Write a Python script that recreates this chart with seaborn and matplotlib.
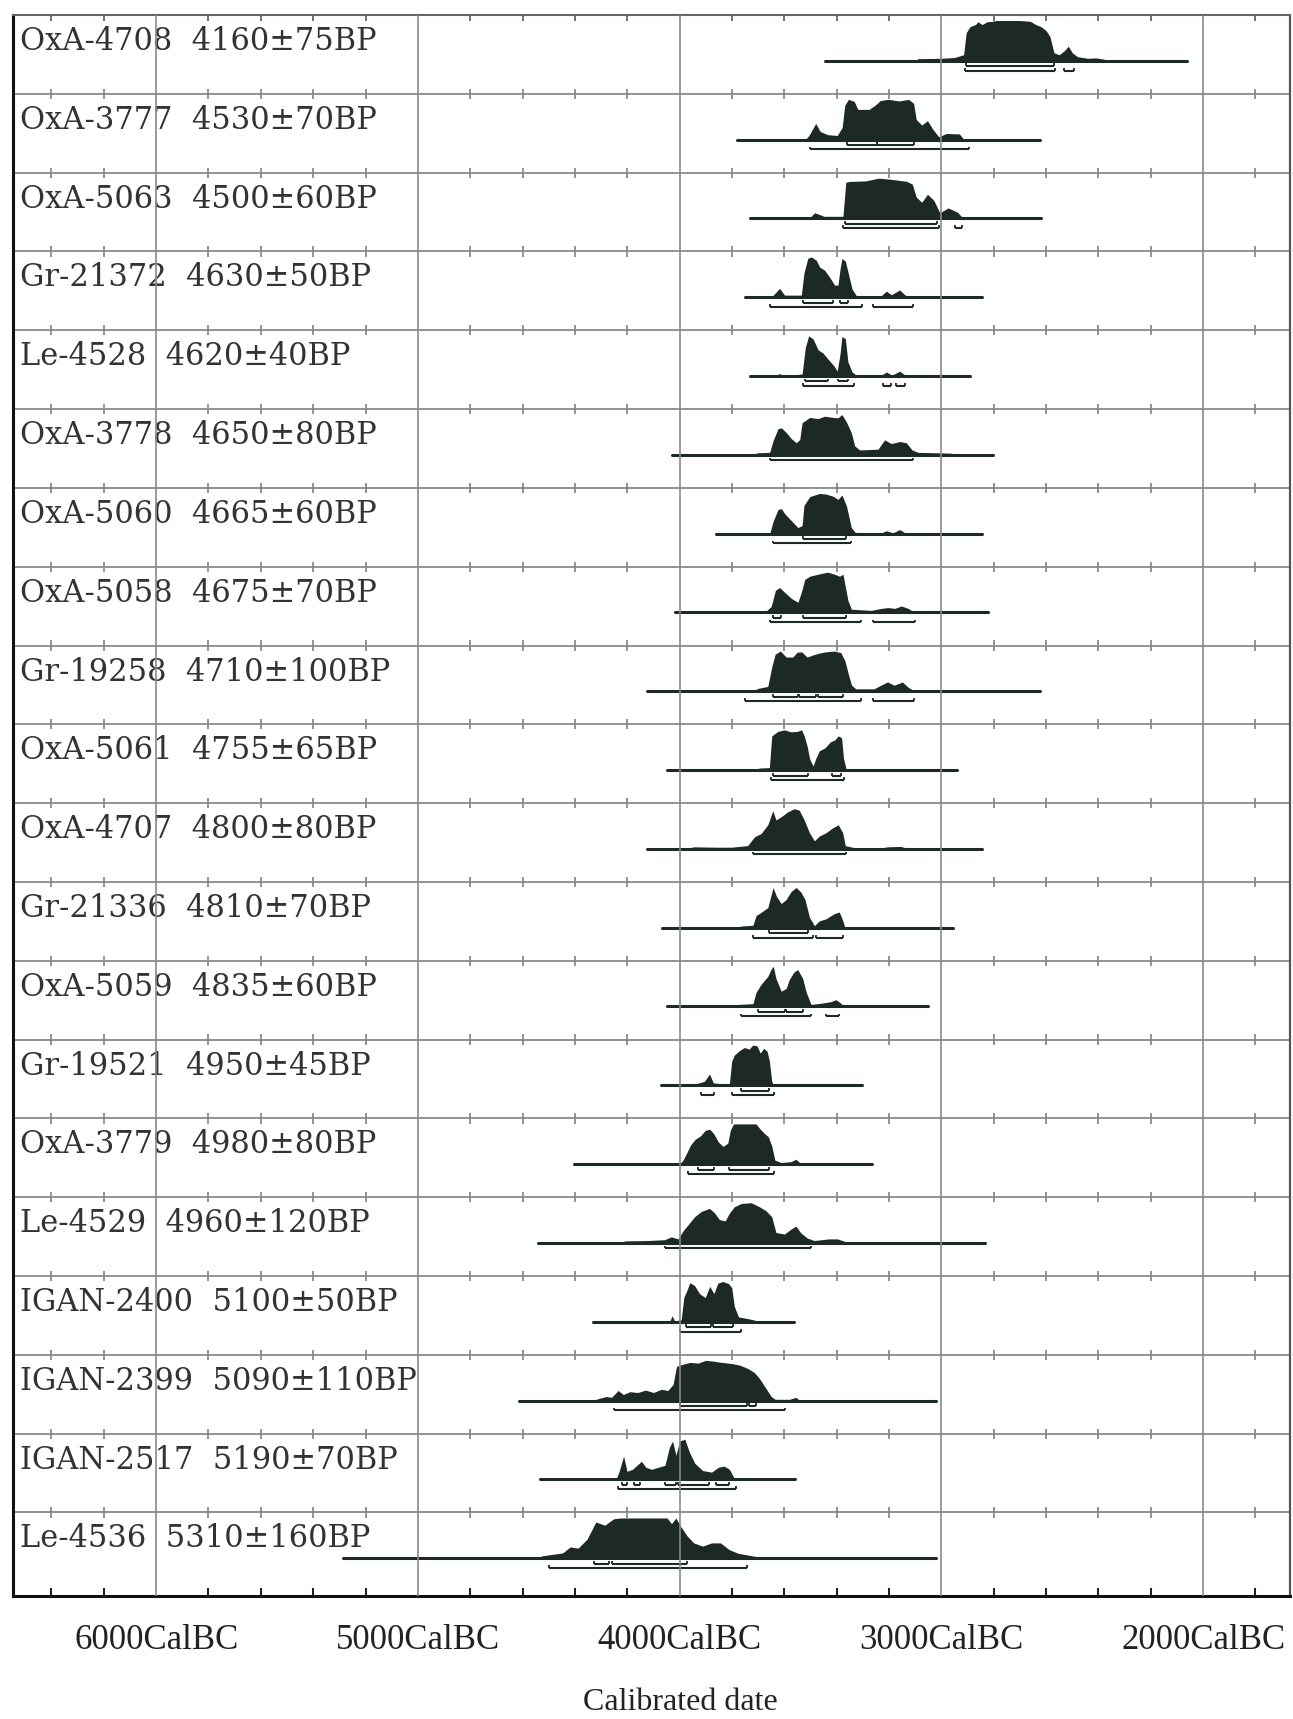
import matplotlib
matplotlib.use("Agg")
import matplotlib.pyplot as plt
import pandas as pd
import seaborn as sns

# sample labels, top to bottom
labels = ["OxA-4708  4160±75BP", "OxA-3777  4530±70BP", "OxA-5063  4500±60BP",
          "Gr-21372  4630±50BP", "Le-4528  4620±40BP", "OxA-3778  4650±80BP",
          "OxA-5060  4665±60BP", "OxA-5058  4675±70BP", "Gr-19258  4710±100BP",
          "OxA-5061  4755±65BP", "OxA-4707  4800±80BP", "Gr-21336  4810±70BP",
          "OxA-5059  4835±60BP", "Gr-19521  4950±45BP", "OxA-3779  4980±80BP",
          "Le-4529  4960±120BP", "IGAN-2400  5100±50BP", "IGAN-2399  5090±110BP",
          "IGAN-2517  5190±70BP", "Le-4536  5310±160BP"]

# extent of the plotted range line (cal BC)
line_start = [3445, 3780, 3730, 3750, 3732, 4030, 3862, 4016, 4126, 4048,
              4126, 4068, 4047, 4070, 4404, 4541, 4330, 4612, 4532, 5286]
line_end = [2060, 2622, 2620, 2843, 2890, 2804, 2843, 2820, 2625, 2940,
            2845, 2954, 3050, 3305, 3265, 2833, 3563, 3021, 3561, 3021]

# probability profiles: (year BC, relative height)
d_oxa4708 = [(3100, 0), (3090, .05), (3000, .06), (2950, .08), (2915, .15), (2905, .7), (2890, .85),
             (2870, .9), (2860, .97), (2845, .9), (2825, .97), (2805, .98), (2790, 1), (2700, 1),
             (2660, .98), (2640, .9), (2620, .85), (2600, .75), (2585, .6), (2570, .2), (2550, .15),
             (2530, .25), (2515, .36), (2500, .2), (2480, .1), (2440, .06), (2410, .07), (2380, .04),
             (2360, 0)]
d_oxa3777 = [(3520, 0), (3506, .1), (3480, .4), (3463, .2), (3434, .12), (3398, .1), (3379, .3),
             (3369, .85), (3355, 1), (3333, .95), (3319, .75), (3276, .75), (3254, .85), (3233, .97),
             (3204, 1), (3161, .96), (3125, 1), (3106, .9), (3096, .5), (3075, .36), (3053, .47),
             (3032, .25), (3010, .07), (2981, .15), (2931, .14), (2914, 0)]
d_oxa5063 = [(3506, 0), (3484, .14), (3448, .05), (3376, .05), (3365, .9), (3348, .92), (3290, .93),
             (3240, 1), (3190, .97), (3132, .92), (3111, .85), (3096, .53), (3075, .4), (3053, .6),
             (3029, .45), (3006, .14), (2974, .26), (2938, .15), (2917, 0)]
d_gr21372 = [(3650, 0), (3618, .22), (3599, .05), (3535, .05), (3525, .6), (3510, .97), (3497, 1),
             (3478, .92), (3465, .75), (3446, .67), (3427, .5), (3408, .3), (3395, .3), (3387, .7),
             (3380, .96), (3367, .9), (3354, .55), (3341, .2), (3325, .04), (3229, .04), (3210, .15),
             (3191, .06), (3159, .18), (3140, .06), (3121, 0)]
d_le4528 = [(3637, 0), (3618, .06), (3599, 0), (3532, .05), (3520, .7), (3507, 1), (3490, .92),
            (3471, .65), (3452, .57), (3433, .42), (3410, .25), (3398, .12), (3387, .55), (3380, .98),
            (3367, .93), (3357, .35), (3341, .1), (3325, .02), (3229, .02), (3210, .1), (3189, .02),
            (3159, .12), (3134, 0)]
d_oxa3778 = [(3726, 0), (3701, .05), (3656, .06), (3643, .35), (3624, .65), (3611, .67), (3592, .55),
             (3573, .4), (3554, .3), (3541, .38), (3532, .8), (3520, .85), (3503, .93), (3471, .9),
             (3446, .96), (3414, .93), (3395, .92), (3380, 1), (3363, .82), (3344, .55), (3331, .22),
             (3312, .12), (3242, .14), (3217, .37), (3191, .28), (3159, .33), (3134, .3), (3112, .12),
             (3089, .06), (2962, .04), (2936, 0)]
d_oxa5060 = [(3656, 0), (3643, .3), (3624, .6), (3611, .62), (3599, .5), (3573, .32), (3548, .15),
             (3532, .2), (3525, .7), (3503, .92), (3484, .96), (3465, 1), (3439, .98), (3414, .93),
             (3395, .85), (3380, .96), (3363, .7), (3344, .15), (3329, .03), (3229, .02), (3210, .07),
             (3185, .02), (3159, .1), (3134, 0)]
d_oxa5058 = [(3675, 0), (3650, .15), (3634, .55), (3618, .62), (3599, .5), (3573, .35), (3548, .25),
             (3535, .5), (3522, .82), (3503, .9), (3484, .93), (3459, .97), (3433, 1), (3408, .95),
             (3389, .9), (3376, .95), (3357, .3), (3344, .08), (3268, .05), (3229, .1), (3204, .12),
             (3178, .1), (3153, .16), (3127, .1), (3102, 0)]
d_gr19258 = [(3720, 0), (3701, .07), (3663, .12), (3648, .6), (3635, .92), (3615, 1), (3593, .85),
             (3568, .85), (3551, .97), (3534, .98), (3513, .85), (3492, .9), (3466, .95), (3441, .98),
             (3409, 1), (3384, .96), (3368, .75), (3356, .44), (3343, .15), (3327, .06), (3257, .06),
             (3231, .15), (3206, .23), (3180, .15), (3149, .23), (3127, .1), (3102, 0)]
d_oxa5061 = [(3714, 0), (3695, .05), (3657, .06), (3648, .85), (3625, .96), (3600, 1), (3574, .95),
             (3551, .96), (3534, 1), (3524, .85), (3513, .6), (3503, .27), (3490, .1), (3479, .3),
             (3466, .48), (3445, .55), (3424, .7), (3407, .75), (3394, .85), (3381, .8), (3374, .3),
             (3363, 0)]
d_oxa4707 = [(3962, 0), (3949, .05), (3854, .04), (3803, .04), (3740, .08), (3714, .3), (3689, .38),
             (3663, .6), (3644, .95), (3632, .72), (3612, .8), (3587, .92), (3562, 1), (3543, .96),
             (3524, .72), (3504, .4), (3485, .2), (3466, .32), (3441, .4), (3416, .52), (3394, .6),
             (3377, .4), (3367, .08), (3333, .03), (3231, .02), (3206, .05), (3155, .06), (3123, 0)]
d_gr21336 = [(3778, 0), (3765, .04), (3720, .06), (3708, .3), (3689, .38), (3663, .5), (3651, .8),
             (3643, 1), (3630, .78), (3612, .6), (3593, .7), (3574, .9), (3555, 1), (3536, .88),
             (3521, .7), (3504, .26), (3485, .05), (3466, .17), (3441, .22), (3409, .35), (3390, .39),
             (3378, .2), (3368, 0)]
d_oxa5059 = [(3790, 0), (3778, .05), (3720, .07), (3708, .35), (3689, .55), (3663, .75), (3651, .92),
             (3642, 1), (3632, .7), (3612, .38), (3593, .45), (3581, .67), (3564, .85), (3549, .92),
             (3530, .7), (3516, .35), (3498, .05), (3460, .08), (3422, .12), (3403, .17), (3384, .08),
             (3371, 0)]
d_gr19521 = [(3956, 0), (3937, .04), (3905, .1), (3886, .28), (3871, .06), (3810, .02), (3801, .6),
             (3791, .75), (3772, .86), (3753, .94), (3734, .9), (3721, 1), (3704, .98), (3692, .8),
             (3679, .92), (3666, .85), (3657, .6), (3648, .1), (3641, 0)]
d_oxa3779 = [(4000, 0), (3987, .1), (3975, .25), (3958, .48), (3940, .62), (3921, .7), (3902, .84),
             (3885, .87), (3869, .75), (3852, .55), (3834, .44), (3816, .52), (3806, .85), (3794, 1),
             (3708, 1), (3692, .87), (3674, .75), (3661, .68), (3648, .45), (3636, .1), (3613, .04),
             (3575, .06), (3556, .12), (3534, 0)]
d_le4529 = [(4228, 0), (4209, .05), (4121, .06), (4057, .08), (4032, .15), (4006, .1), (3987, .3),
            (3968, .45), (3943, .65), (3918, .78), (3886, .86), (3867, .75), (3848, .58), (3826, .55),
            (3810, .74), (3791, .9), (3765, .98), (3727, 1), (3695, .9), (3670, .8), (3648, .65),
            (3632, .26), (3600, .22), (3575, .34), (3556, .42), (3537, .25), (3512, .12), (3486, .06),
            (3429, .1), (3397, .1), (3365, .03), (3353, 0)]
d_igan2400 = [(4038, 0), (4029, .15), (4019, .02), (3994, .05), (3984, .6), (3971, .8), (3961, .97),
              (3943, .9), (3924, .7), (3902, .6), (3885, .88), (3869, .7), (3854, .96), (3835, 1),
              (3813, .95), (3801, .85), (3791, .38), (3775, .12), (3740, .08), (3714, .04), (3702, 0)]
d_igan2399 = [(4330, 0), (4310, .05), (4280, .1), (4260, .08), (4235, .25), (4215, .15), (4190, .22),
              (4160, .2), (4130, .26), (4100, .2), (4070, .28), (4045, .25), (4025, .4), (4012, .85),
              (3990, .9), (3960, .95), (3930, .93), (3900, 1), (3870, .98), (3840, .95), (3800, .92),
              (3770, .88), (3740, .8), (3715, .7), (3695, .55), (3670, .3), (3650, .1), (3635, .03),
              (3580, .03), (3556, .08), (3540, 0)]
d_igan2517 = [(4243, 0), (4231, .2), (4214, .58), (4201, .2), (4180, .25), (4163, .35), (4146, .45),
              (4129, .3), (4107, .25), (4082, .3), (4056, .35), (4039, .8), (4027, .95), (4014, .6),
              (4000, .95), (3980, 1), (3963, .68), (3942, .4), (3912, .22), (3878, .18), (3852, .3),
              (3830, .33), (3810, .25), (3789, 0)]
d_le4536 = [(4549, 0), (4524, .06), (4481, .1), (4447, .13), (4418, .28), (4388, .25), (4354, .47),
            (4320, .9), (4286, .82), (4252, .98), (4226, 1), (4048, 1), (4031, .86), (4014, 1),
            (3997, .8), (3971, .55), (3946, .38), (3912, .3), (3878, .38), (3844, .38), (3810, .21),
            (3776, .12), (3741, .08), (3707, .04), (3656, 0)]

profiles = [d_oxa4708, d_oxa3777, d_oxa5063, d_gr21372, d_le4528, d_oxa3778, d_oxa5060,
            d_oxa5058, d_gr19258, d_oxa5061, d_oxa4707, d_gr21336, d_oxa5059, d_gr19521,
            d_oxa3779, d_le4529, d_igan2400, d_igan2399, d_igan2517, d_le4536]

# 68.2% and 95.4% ranges
hpd68 = [[(2905, 2570)], [(3362, 3247), (3244, 3103)], [(3370, 3015)],
         [(3529, 3414), (3389, 3357)], [(3522, 3433), (3395, 3357)], [(3655, 3110)],
         [(3529, 3363)], [(3643, 3611), (3529, 3363)],
         [(3644, 3549), (3543, 3479), (3473, 3377)], [(3644, 3511), (3416, 3384)],
         [(3720, 3365)], [(3657, 3511)], [(3701, 3599), (3593, 3530)], [(3765, 3657)],
         [(3930, 3867), (3810, 3657)], [(4057, 3499)], [(3975, 3879), (3873, 3797)],
         [(3997, 3741), (3733, 3707)],
         [(4221, 4201), (4175, 4150), (4056, 4014), (4005, 3886), (3861, 3810)],
         [(4328, 4269), (4260, 3971)]]
hpd95 = [[(2908, 2565), (2530, 2493)], [(3501, 2895)], [(3374, 3010), (2948, 2922)],
         [(3656, 3303), (3261, 3108)], [(3529, 3334), (3223, 3191), (3172, 3140)], [],
         [(3643, 3344)], [(3656, 3306), (3261, 3102)], [(3752, 3308), (3263, 3104)],
         [(3651, 3371)], [], [(3720, 3491), (3479, 3377)], [(3765, 3498), (3441, 3390)],
         [(3920, 3867), (3801, 3638)], [(3968, 3638)], [], [(4000, 3765)], [(4252, 3597)],
         [(4235, 3784)], [(4498, 3741)]]

major_years = [6000, 5000, 4000, 3000, 2000]
major_labels = ["6000CalBC", "5000CalBC", "4000CalBC", "3000CalBC", "2000CalBC"]

ink = "#1c2925"
grid_col = "#8a8a8a"
n = len(labels)
H = 0.51

sns.set_theme(style="white")
fig = plt.figure(figsize=(12.93, 17.19), dpi=100)
ax = fig.add_axes([0.00982, 0.07155, 0.98785, 0.91972])

base = [n - 0.58 - k for k in range(n)]

# range lines
df_lines = pd.DataFrame({
    "sample": [k for k in range(n) for _ in range(2)],
    "year": [v for k in range(n) for v in (line_start[k], line_end[k])],
    "y": [base[k] for k in range(n) for _ in range(2)],
})
sns.lineplot(data=df_lines, x="year", y="y", units="sample", estimator=None, sort=False,
             color=ink, lw=2.2, legend=False, ax=ax, zorder=2)

for k in range(n):
    b = base[k]
    yrs = [p[0] for p in profiles[k]]
    hs = [b + H * p[1] for p in profiles[k]]
    ax.fill_between(yrs, b, hs, color=ink, lw=0, zorder=3)
    for ranges, off in ((hpd68, 0.07), (hpd95, 0.125)):
        for a, z in ranges[k]:
            ax.plot([a, z], [b - off, b - off], color=ink, lw=1.5, solid_capstyle="butt", zorder=3)
            ax.vlines([a, z], b - off, b - off + 0.035, color=ink, lw=1.3, zorder=3)
    ax.text(6520, n - k - 0.444, labels[k], ha="left", va="baseline", fontsize=22,
            family="DejaVu Serif", color="#333333", zorder=4)

minor = [y for y in range(6400, 1600, -200) if y % 1000 != 0]

# row separators with crossing ticks
for s in range(1, n):
    ax.axhline(s, color=grid_col, lw=1.3, zorder=1)
    ax.vlines(minor, s - 0.065, s + 0.065, color=grid_col, lw=1.3, zorder=1)
ax.vlines(minor, n - 0.07, n, color="#666666", lw=1.3, zorder=1)

for yr in major_years:
    ax.axvline(yr, color=grid_col, lw=1.2, zorder=5)

ax.set_xlim(6548, 1668)
ax.set_ylim(-0.06, n)
ax.set_yticks([])
ax.set_xticks(major_years, labels=major_labels)
ax.set_xticks(minor, minor=True)
ax.tick_params(axis="x", which="major", length=0, pad=20, labelsize=25, labelcolor="#222222")
ax.tick_params(axis="x", which="minor", bottom=True, direction="in", length=6, width=1.5,
               color="#222222")
for t in ax.get_xticklabels():
    t.set_fontfamily("Liberation Serif")
ax.set_xlabel("")
ax.set_ylabel("")

for side, col, w in (("left", "#111111", 2.2), ("bottom", "#111111", 2.2),
                     ("top", "#666666", 1.5), ("right", "#555555", 1.6)):
    ax.spines[side].set_visible(True)
    ax.spines[side].set_color(col)
    ax.spines[side].set_linewidth(w)

fig.text(680 / 1293, 1 - 1702 / 1719, "Calibrated date", ha="center", va="center",
         fontsize=23, family="Liberation Serif", color="#222222")

fig.savefig("out.png", dpi=100)
